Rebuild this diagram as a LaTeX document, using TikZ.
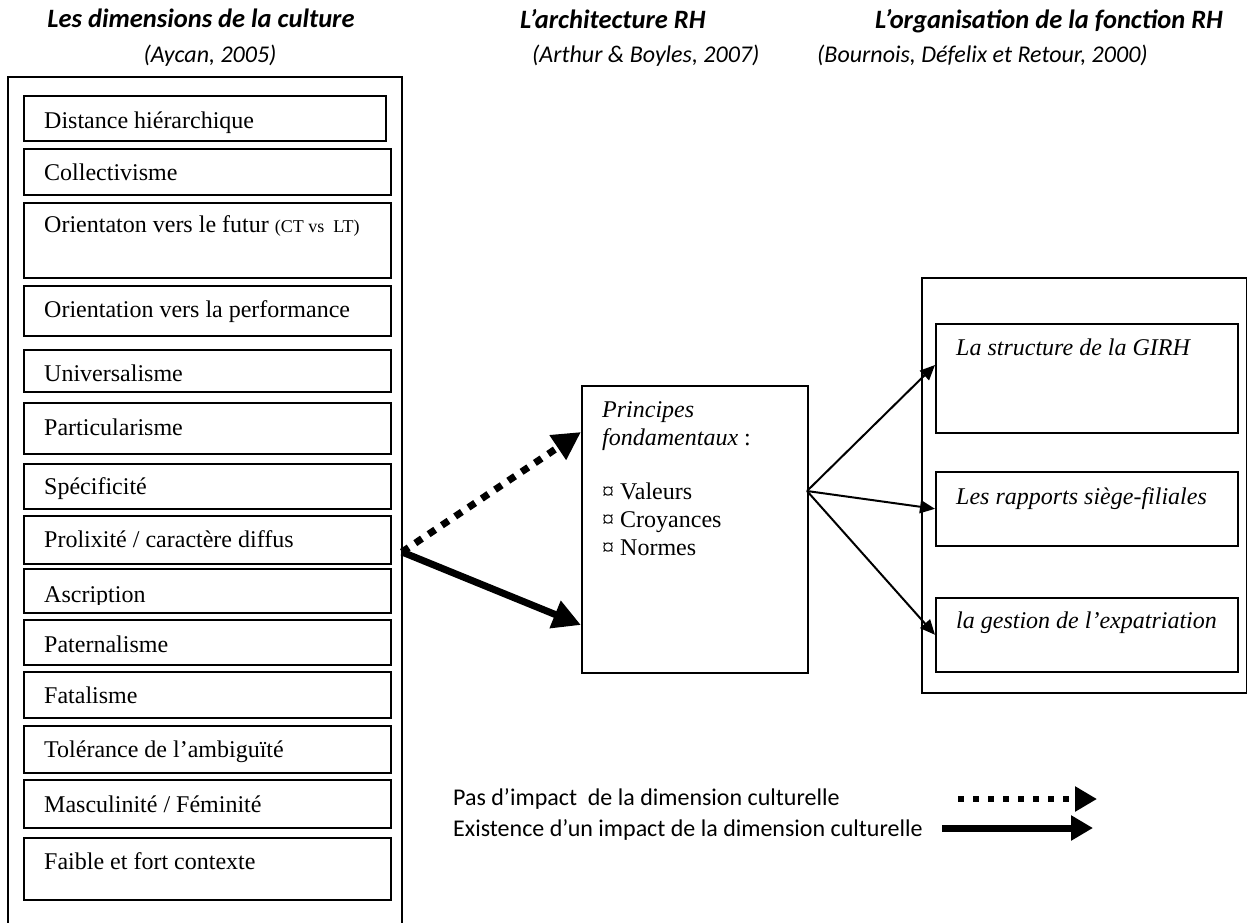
\documentclass[tikz,border=0pt]{standalone}
\usepackage{fontspec}
\setmainfont{Liberation Serif}
\newfontfamily\calibri{Carlito}
\usetikzlibrary{arrows.meta,calc}
\begin{document}
\begin{tikzpicture}[x=1pt,y=-1pt,
  box/.style={draw,line width=1.6pt,anchor=north west,inner sep=0pt,minimum width=367pt},
  obox/.style={draw,line width=1.6pt,anchor=north west,inner sep=0pt},
  dtext/.style={anchor=base west,inner sep=0pt,font=\fontsize{24}{28}\selectfont},
  itext/.style={anchor=base west,inner sep=0pt,font=\fontsize{24}{28}\selectfont\itshape},
  head/.style={anchor=base,inner sep=0pt,font=\calibri\fontsize{26.5}{30}\selectfont\bfseries\itshape},
  sub/.style={anchor=base,inner sep=0pt,font=\calibri\fontsize{24}{28}\selectfont\itshape},
  legtext/.style={anchor=base west,inner sep=0pt,font=\calibri\fontsize{24}{28}\selectfont},
  thinarrow/.style={line width=2pt,-{Triangle[length=15pt,width=13pt]}},
  bigsolid/.style={line width=7pt,-{Triangle[length=28pt,width=28pt]}},
  bigdotted/.style={line width=7pt,dash pattern=on 8pt off 8pt,-{Triangle[length=28pt,width=28pt]}},
  legdotted/.style={line width=6pt,dash pattern=on 6pt off 9pt,-{Triangle[length=22pt,width=24pt]}},
  legsolid/.style={line width=7pt,-{Triangle[length=22pt,width=24pt]}}
]
\useasboundingbox (0,0) rectangle (1247,922);
\fill[white] (0,0) rectangle (1247,922);

% headers
\node[head] (h1) at (201,27) {Les dimensions de la culture};
\node[sub] (s1) at (210,62) {(Aycan, 2005)};
\node[head,anchor=base west] (h2) at (520,28) {L’architecture RH};
\node[sub,anchor=base west] (s2) at (532,62) {(Arthur \& Boyles, 2007)};
\node[head,anchor=base west] (h3) at (875,28) {L’organisation de la fonction RH};
\node[sub,anchor=base west] (s3) at (817,62) {(Bournois, Défelix et Retour, 2000)};

% left outer box
\node[obox,minimum width=394pt,minimum height=880pt] (L) at (7,76) {};

% dimension boxes
\node[box,minimum width=362pt,minimum height=45pt] (d1) at (23,95) {};
\node[dtext] at ($(d1.north west)+(21,33)$) {Distance hiérarchique};
\node[box,minimum height=46pt] (d2) at (23,148) {};
\node[dtext] at ($(d2.north west)+(21,32)$) {Collectivisme};
\node[box,minimum height=75pt] (d3) at (23,202) {};
\node[dtext] at ($(d3.north west)+(21,30)$) {Orientaton vers le futur {\fontsize{18}{20}\selectfont(CT vs~ LT)}};
\node[box,minimum height=50pt] (d4) at (23,285) {};
\node[dtext] at ($(d4.north west)+(21,32)$) {Orientation vers la performance};
\node[box,minimum height=42pt] (d5) at (23,349) {};
\begin{scope}
\clip (23,349) rectangle (390,383);
\node[dtext] at ($(d5.north west)+(21,32)$) {Universalisme};
\end{scope}
\node[box,minimum height=51pt] (d6) at (23,402) {};
\node[dtext] at ($(d6.north west)+(21,33)$) {Particularisme};
\node[box,minimum height=45pt] (d7) at (23,463) {};
\node[dtext] at ($(d7.north west)+(21,31)$) {Spécificité};
\node[box,minimum height=48pt] (d8) at (23,515) {};
\node[dtext] at ($(d8.north west)+(21,32)$) {Prolixité / caractère diffus};
\node[box,minimum height=44pt] (d9) at (23,568) {};
\begin{scope}
\clip (23,568) rectangle (390,604);
\node[dtext] at ($(d9.north west)+(21,34)$) {Ascription};
\end{scope}
\node[box,minimum height=45pt] (d10) at (23,619) {};
\node[dtext] at ($(d10.north west)+(21,33)$) {Paternalisme};
\node[box,minimum height=46pt] (d11) at (23,671) {};
\node[dtext] at ($(d11.north west)+(21,32)$) {Fatalisme};
\node[box,minimum height=47pt] (d12) at (23,725) {};
\node[dtext] at ($(d12.north west)+(21,32)$) {Tolérance de l’ambiguïté};
\node[box,minimum height=48pt] (d13) at (23,779) {};
\node[dtext] at ($(d13.north west)+(21,33)$) {Masculinité / Féminité};
\node[box,minimum height=62pt] (d14) at (23,837) {};
\node[dtext] at ($(d14.north west)+(21,32)$) {Faible et fort contexte};

% middle box
\node[obox,minimum width=226pt,minimum height=287pt] (M) at (581,385) {};
\node[itext] (m1) at (602,417) {Principes};
\node[itext] (m2) at (602,445) {fondamentaux\upshape~:};
\node[dtext] (m3) at (602,499) {¤ Valeurs};
\node[dtext] (m4) at (602,527) {¤ Croyances};
\node[dtext] (m5) at (602,555) {¤ Normes};

% right outer box
\node[obox,minimum width=325pt,minimum height=415pt] (R) at (921,277) {};
\node[obox,minimum width=302pt,minimum height=109pt] (r1) at (935,323) {};
\node[itext] at ($(r1.north west)+(21,32)$) {La structure de la GIRH};
\node[obox,minimum width=302pt,minimum height=74pt] (r2) at (935,471) {};
\node[itext] at ($(r2.north west)+(21,33)$) {Les rapports siège-filiales};
\node[obox,minimum width=302pt,minimum height=74pt] (r3) at (935,597) {};
\node[itext] at ($(r3.north west)+(21,31)$) {la gestion de l’expatriation};

% connectors
\coordinate (lo) at (402,552);
\coordinate (mo) at (807,491);
\draw[bigdotted] (lo) -- (M.north west |- 0,432);
\draw[bigsolid] (lo) -- (M.north west |- 0,625);
\draw[thinarrow] (mo) -- (r1.north west |- 0,365);
\draw[thinarrow] (mo) -- (r2.west);
\draw[thinarrow] (mo) -- (r3.west);

% legend
\node[legtext] (l1) at (453,805) {Pas d’impact~ de la dimension culturelle};
\node[legtext] (l2) at (453,836) {Existence d’un impact de la dimension culturelle};
\coordinate (l1a) at (958,799);
\coordinate (l1b) at (1097,799);
\coordinate (l2a) at (942,828);
\coordinate (l2b) at (1093,828);
\draw[legdotted] (l1a) -- (l1b);
\draw[legsolid] (l2a) -- (l2b);
\end{tikzpicture}
\end{document}
